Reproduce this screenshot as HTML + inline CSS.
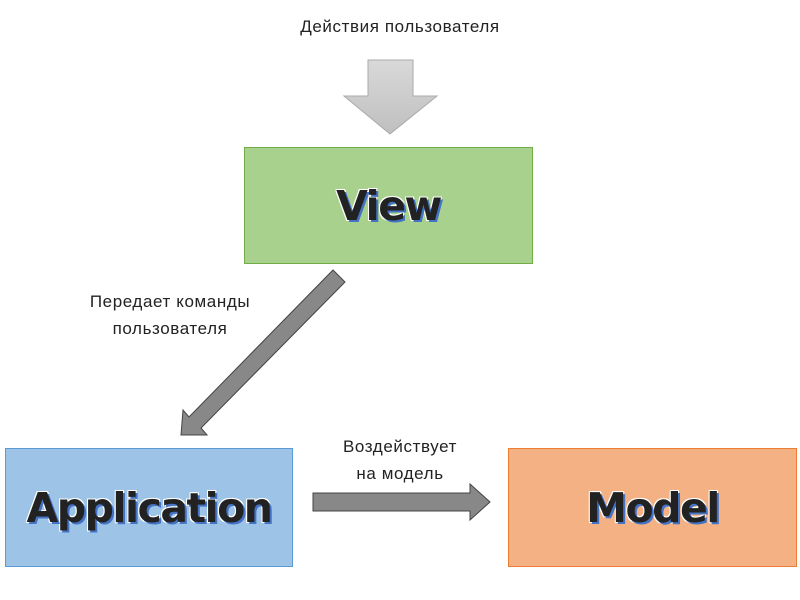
<!DOCTYPE html>
<html><head><meta charset="utf-8"><style>
body{margin:0;width:800px;height:600px;background:#fff;position:relative;overflow:hidden;font-family:"Liberation Sans",sans-serif}
.box{position:absolute;display:flex;align-items:center;justify-content:center;box-sizing:border-box}
.big{font-family:"DejaVu Sans","Liberation Sans",sans-serif;font-weight:bold;font-size:41px;color:#222;
text-shadow:2px 2px 0 #4472c4,-1px -1px 0 #fff,1px -1px 0 #fff,-1px 1px 0 #fff,1px 1px 0 #fff;letter-spacing:-1.5px}
.lbl{position:absolute;font-size:17px;letter-spacing:0.6px;color:#222;text-align:center;line-height:27px}
</style></head><body>
<div class="lbl" style="left:250px;top:13px;width:300px">Действия пользователя</div>
<div class="lbl" style="left:50px;top:288px;width:240px">Передает команды<br>пользователя</div>
<div class="lbl" style="left:300px;top:433px;width:200px">Воздействует<br>на модель</div>
<svg width="800" height="600" style="position:absolute;left:0;top:0">
<defs><linearGradient id="g" x1="0" y1="0" x2="0" y2="1"><stop offset="0" stop-color="#d9d9d9"/><stop offset="1" stop-color="#bfbfbf"/></linearGradient></defs>
<polygon points="368,60 413,60 413,96 437,96 390,134 344,96 368,96" fill="url(#g)" stroke="#aaa"/>
<polygon points="333,270 345,282 201,428 207,435 181,435 183,410 189,417" fill="#888" stroke="#444"/>
<polygon points="313,493 470,493 470,484 490,502 470,520 470,511 313,511" fill="#888" stroke="#444"/>
</svg>
<div class="box big" style="left:244px;top:147px;width:289px;height:117px;background:#a9d18e;border:1px solid #70ad47">View</div>
<div class="box big" style="left:5px;top:448px;width:288px;height:119px;background:#9dc3e6;border:1px solid #5b9bd5">Application</div>
<div class="box big" style="left:508px;top:448px;width:289px;height:119px;background:#f4b183;border:1px solid #ed7d31">Model</div>
</body></html>
